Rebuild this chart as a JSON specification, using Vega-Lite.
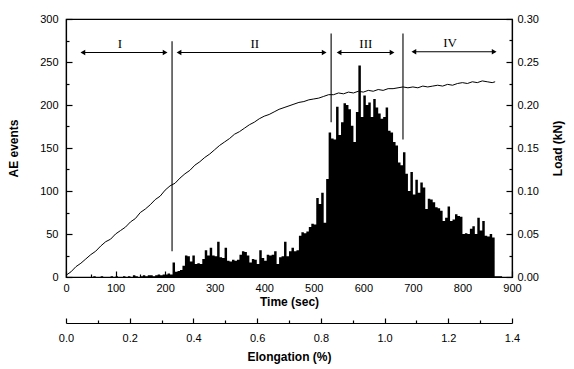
{
  "$schema": "https://vega.github.io/schema/vega-lite/v6.json",
  "width": 446,
  "height": 258,
  "autosize": {"type": "none"},
  "padding": {"left": 66, "top": 19, "right": 62, "bottom": 92},
  "background": "white",
  "config": {
    "view": {"stroke": "black", "strokeWidth": 1.2},
    "axis": {
      "domainColor": "black", "tickColor": "black", "labelColor": "black", "titleColor": "black",
      "labelFont": "Liberation Sans", "titleFont": "Liberation Sans",
      "labelFontSize": 11, "titleFontSize": 12, "titleFontWeight": "bold",
      "grid": false, "domainWidth": 1.2, "tickWidth": 1.2, "labelFlush": false
    }
  },
  "datasets": {
    "ae": [
      {"t":0,"v":0},{"t":5,"v":0},{"t":10,"v":0},{"t":15,"v":0},{"t":20,"v":0},{"t":25,"v":0},{"t":30,"v":0},{"t":35,"v":0},{"t":40,"v":0},{"t":45,"v":0},
      {"t":50,"v":0},{"t":55,"v":1},{"t":60,"v":0},{"t":65,"v":0},{"t":70,"v":1},{"t":75,"v":0},{"t":80,"v":0},{"t":85,"v":0},{"t":90,"v":1},{"t":95,"v":0},
      {"t":100,"v":1},{"t":105,"v":0},{"t":110,"v":0},{"t":115,"v":1},{"t":120,"v":0},{"t":125,"v":1},{"t":130,"v":0},{"t":135,"v":2},{"t":140,"v":1},{"t":145,"v":0},
      {"t":150,"v":1},{"t":155,"v":2},{"t":160,"v":1},{"t":165,"v":2},{"t":170,"v":2},{"t":175,"v":1},{"t":180,"v":2},{"t":185,"v":3},{"t":190,"v":2},{"t":195,"v":3},
      {"t":200,"v":3},{"t":205,"v":4},{"t":210,"v":3},{"t":215,"v":17},{"t":220,"v":6},{"t":225,"v":7},{"t":230,"v":8},{"t":235,"v":13},{"t":240,"v":25},{"t":245,"v":24},
      {"t":250,"v":18},{"t":255,"v":25},{"t":260,"v":15},{"t":265,"v":16},{"t":270,"v":15},{"t":275,"v":21},{"t":280,"v":31},{"t":285,"v":25},{"t":290,"v":34},{"t":295,"v":25},
      {"t":300,"v":24},{"t":305,"v":41},{"t":310,"v":23},{"t":315,"v":22},{"t":320,"v":34},{"t":325,"v":19},{"t":330,"v":18},{"t":335,"v":20},{"t":340,"v":19},{"t":345,"v":20},
      {"t":350,"v":26},{"t":355,"v":30},{"t":360,"v":29},{"t":365,"v":25},{"t":370,"v":17},{"t":375,"v":21},{"t":380,"v":20},{"t":385,"v":15},{"t":390,"v":31},{"t":395,"v":22},
      {"t":400,"v":19},{"t":405,"v":26},{"t":410,"v":25},{"t":415,"v":26},{"t":420,"v":30},{"t":425,"v":15},{"t":430,"v":23},{"t":435,"v":24},{"t":440,"v":41},{"t":445,"v":24},
      {"t":450,"v":30},{"t":455,"v":34},{"t":460,"v":30},{"t":465,"v":31},{"t":470,"v":48},{"t":475,"v":52},{"t":480,"v":51},{"t":485,"v":53},{"t":490,"v":58},{"t":495,"v":62},
      {"t":500,"v":61},{"t":505,"v":92},{"t":510,"v":85},{"t":515,"v":98},{"t":520,"v":63},{"t":525,"v":114},{"t":530,"v":168},{"t":535,"v":161},{"t":540,"v":160},{"t":545,"v":198},
      {"t":550,"v":165},{"t":555,"v":180},{"t":560,"v":202},{"t":565,"v":200},{"t":570,"v":195},{"t":575,"v":176},{"t":580,"v":157},{"t":585,"v":192},{"t":590,"v":246},{"t":595,"v":186},
      {"t":600,"v":211},{"t":605,"v":200},{"t":610,"v":203},{"t":615,"v":186},{"t":620,"v":207},{"t":625,"v":197},{"t":630,"v":190},{"t":635,"v":184},{"t":640,"v":186},{"t":645,"v":197},
      {"t":650,"v":170},{"t":655,"v":168},{"t":660,"v":157},{"t":665,"v":153},{"t":670,"v":133},{"t":675,"v":130},{"t":680,"v":145},{"t":685,"v":120},{"t":690,"v":100},{"t":695,"v":122},
      {"t":700,"v":96},{"t":705,"v":113},{"t":710,"v":98},{"t":715,"v":110},{"t":720,"v":104},{"t":725,"v":79},{"t":730,"v":91},{"t":735,"v":90},{"t":740,"v":87},{"t":745,"v":81},
      {"t":750,"v":80},{"t":755,"v":77},{"t":760,"v":65},{"t":765,"v":69},{"t":770,"v":82},{"t":775,"v":65},{"t":780,"v":67},{"t":785,"v":73},{"t":790,"v":71},{"t":795,"v":70},
      {"t":800,"v":50},{"t":805,"v":51},{"t":810,"v":50},{"t":815,"v":56},{"t":820,"v":59},{"t":825,"v":50},{"t":830,"v":69},{"t":835,"v":54},{"t":840,"v":65},{"t":845,"v":48},
      {"t":850,"v":47},{"t":855,"v":50},{"t":860,"v":46},{"t":865,"v":1},{"t":870,"v":1},{"t":875,"v":1},{"t":880,"v":0}
    ],
    "load": [
      {"t":0,"load":0.002},{"t":10,"load":0.006},{"t":20,"load":0.012},{"t":30,"load":0.016},{"t":40,"load":0.021},{"t":50,"load":0.026},{"t":60,"load":0.030},{"t":70,"load":0.036},{"t":80,"load":0.041},{"t":90,"load":0.044},
      {"t":100,"load":0.050},{"t":110,"load":0.054},{"t":120,"load":0.058},{"t":130,"load":0.064},{"t":140,"load":0.068},{"t":150,"load":0.075},{"t":160,"load":0.079},{"t":170,"load":0.084},{"t":180,"load":0.090},{"t":190,"load":0.094},
      {"t":200,"load":0.101},{"t":210,"load":0.106},{"t":220,"load":0.109},{"t":230,"load":0.115},{"t":240,"load":0.120},{"t":250,"load":0.124},{"t":260,"load":0.130},{"t":270,"load":0.134},{"t":280,"load":0.139},{"t":290,"load":0.143},
      {"t":300,"load":0.148},{"t":310,"load":0.153},{"t":320,"load":0.157},{"t":330,"load":0.161},{"t":340,"load":0.166},{"t":350,"load":0.169},{"t":360,"load":0.173},{"t":370,"load":0.177},{"t":380,"load":0.180},{"t":390,"load":0.184},
      {"t":400,"load":0.187},{"t":410,"load":0.189},{"t":420,"load":0.192},{"t":430,"load":0.195},{"t":440,"load":0.197},{"t":450,"load":0.199},{"t":460,"load":0.201},{"t":470,"load":0.203},{"t":480,"load":0.204},{"t":490,"load":0.206},
      {"t":500,"load":0.207},{"t":510,"load":0.208},{"t":520,"load":0.210},{"t":530,"load":0.212},{"t":540,"load":0.212},{"t":550,"load":0.214},{"t":560,"load":0.213},{"t":570,"load":0.215},{"t":580,"load":0.214},{"t":590,"load":0.216},
      {"t":600,"load":0.215},{"t":610,"load":0.217},{"t":620,"load":0.216},{"t":630,"load":0.218},{"t":640,"load":0.217},{"t":650,"load":0.219},{"t":660,"load":0.219},{"t":670,"load":0.220},{"t":680,"load":0.221},{"t":690,"load":0.220},
      {"t":700,"load":0.221},{"t":710,"load":0.220},{"t":720,"load":0.222},{"t":730,"load":0.221},{"t":740,"load":0.222},{"t":750,"load":0.223},{"t":760,"load":0.222},{"t":770,"load":0.224},{"t":780,"load":0.223},{"t":790,"load":0.225},
      {"t":800,"load":0.226},{"t":810,"load":0.225},{"t":820,"load":0.227},{"t":830,"load":0.226},{"t":840,"load":0.228},{"t":850,"load":0.227},{"t":860,"load":0.226},{"t":866,"load":0.227}
    ],
    "dividers": [
      {"t":214,"v":274,"v2":30},
      {"t":535,"v":283,"v2":180},
      {"t":680,"v":283,"v2":160}
    ],
    "arrows": [
      {"t":32,"t2":202,"v":261},
      {"t":226,"t2":523,"v":261},
      {"t":549,"t2":660,"v":261},
      {"t":700,"t2":866,"v":262}
    ],
    "heads": [
      {"t":34,"v":261,"dir":"l"},{"t":200,"v":261,"dir":"r"},
      {"t":228,"v":261,"dir":"l"},{"t":521,"v":261,"dir":"r"},
      {"t":551,"v":261,"dir":"l"},{"t":658,"v":261,"dir":"r"},
      {"t":702,"v":262,"dir":"l"},{"t":864,"v":262,"dir":"r"}
    ],
    "labels": [
      {"t":109,"v":271,"label":"I"},
      {"t":381,"v":271,"label":"II"},
      {"t":605,"v":271,"label":"III"},
      {"t":775,"v":272,"label":"IV"}
    ]
  },
  "layer": [
    {
      "encoding": {
        "x": {
          "field": "t", "type": "quantitative",
          "scale": {"domain": [0, 900], "nice": false, "zero": false},
          "axis": {
            "title": "Time (sec)",
            "values": [0,50,100,150,200,250,300,350,400,450,500,550,600,650,700,750,800,850,900],
            "labelExpr": "datum.value % 100 === 0 ? datum.label : ''",
            "tickSize": {"condition": {"test": "datum.value % 100 === 0", "value": -6}, "value": -3},
            "labelPadding": 11,
            "titlePadding": 3
          }
        },
        "y": {
          "field": "v", "type": "quantitative",
          "scale": {"domain": [0, 300], "nice": false},
          "axis": {
            "title": "AE events",
            "values": [0,25,50,75,100,125,150,175,200,225,250,275,300],
            "labelExpr": "datum.value % 50 === 0 ? datum.label : ''",
            "tickSize": {"condition": {"test": "datum.value % 50 === 0", "value": -6}, "value": -3},
            "labelPadding": 14,
            "titlePadding": 19
          }
        }
      },
      "layer": [
        {"data": {"name": "ae"}, "mark": {"type": "area", "interpolate": "step-after", "color": "black"}},
        {"data": {"name": "dividers"}, "mark": {"type": "rule", "color": "black", "strokeWidth": 1.1}, "encoding": {"y2": {"field": "v2"}}},
        {"data": {"name": "arrows"}, "mark": {"type": "rule", "color": "black", "strokeWidth": 1.1}, "encoding": {"x2": {"field": "t2"}}},
        {"data": {"name": "heads"}, "mark": {"type": "point", "filled": true, "color": "black", "opacity": 1, "size": 30},
         "encoding": {"shape": {"field": "dir", "type": "nominal", "scale": {"domain": ["l", "r"], "range": ["triangle-left", "triangle-right"]}, "legend": null}}},
        {"data": {"name": "labels"}, "mark": {"type": "text", "font": "Liberation Serif", "fontSize": 13, "color": "black", "baseline": "middle"},
         "encoding": {"text": {"field": "label"}}}
      ]
    },
    {
      "data": {"name": "load"},
      "mark": {"type": "line", "color": "black", "strokeWidth": 1},
      "encoding": {
        "x": {"field": "t", "type": "quantitative", "scale": {"domain": [0, 900], "nice": false, "zero": false}, "axis": null},
        "y": {
          "field": "load", "type": "quantitative",
          "scale": {"domain": [0, 0.3], "nice": false},
          "axis": {
            "orient": "right",
            "title": "Load (kN)",
            "titleAngle": 270,
            "format": ".2f",
            "values": [0,0.025,0.05,0.075,0.1,0.125,0.15,0.175,0.2,0.225,0.25,0.275,0.3],
            "labelExpr": "round(datum.value*1000) % 50 === 0 ? datum.label : ''",
            "tickSize": {"condition": {"test": "round(datum.value*1000) % 50 === 0", "value": -6}, "value": -3},
            "labelPadding": 11,
            "titlePadding": 26
          }
        }
      }
    },
    {
      "data": {"values": [{"e": 0}, {"e": 1.4}]},
      "mark": {"type": "point", "opacity": 0},
      "encoding": {
        "x": {
          "field": "e", "type": "quantitative",
          "scale": {"domain": [0, 1.4], "nice": false, "zero": false},
          "axis": {
            "orient": "bottom",
            "offset": 46,
            "title": "Elongation (%)",
            "format": ".1f",
            "values": [0,0.1,0.2,0.3,0.4,0.5,0.6,0.7,0.8,0.9,1.0,1.1,1.2,1.3,1.4],
            "labelExpr": "round(datum.value*10) % 2 === 0 ? datum.label : ''",
            "tickSize": {"condition": {"test": "round(datum.value*10) % 2 === 0", "value": -5}, "value": -3},
            "labelPadding": 14,
            "titlePadding": 8
          }
        }
      }
    }
  ],
  "resolve": {"scale": {"x": "independent", "y": "independent"}}
}
